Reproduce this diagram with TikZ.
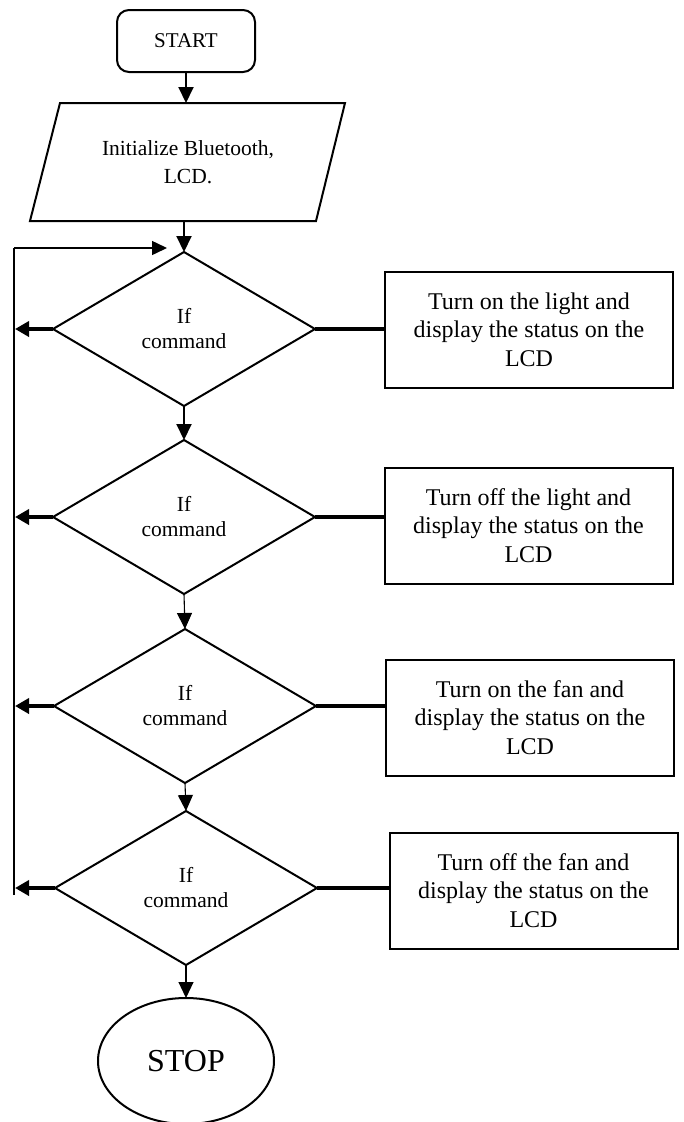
\documentclass[tikz,border=0pt]{standalone}
\usepackage{fontspec}
\setmainfont{Liberation Serif}
\usetikzlibrary{shapes.geometric,arrows.meta}

\begin{document}
\begin{tikzpicture}[x=1pt,y=1pt,
  every node/.style={inner sep=0pt, outer sep=0pt},
  txt/.style={font=\fontsize{21.5}{25}\selectfont, align=center},
  terminal/.style={draw, line width=2pt, rounded corners=12pt,
    minimum width=138pt, minimum height=62pt, font=\fontsize{21}{25}\selectfont},
  decision/.style={diamond, draw, line width=2pt, minimum width=262pt,
    minimum height=154pt, txt},
  action/.style={draw, line width=2pt, minimum width=288pt, minimum height=116pt,
    align=center, font=\fontsize{24}{28.5}\selectfont},
  stopnode/.style={ellipse, draw, line width=2pt, minimum width=176pt,
    minimum height=126pt, font=\fontsize{32}{36}\selectfont},
  head/.style={-{Triangle[length=16pt,width=15pt]}},
  flow/.style={line width=2pt, head},
  thinflow/.style={line width=1.1pt, head},
  backarrow/.style={line width=3.5pt, -{Triangle[length=14pt,width=15pt]}},
  link/.style={line width=3.5pt},
  loop/.style={line width=1.5pt}
]
\useasboundingbox (0,0) rectangle (683,-1122);

% start and initialisation
\node[terminal] (start) at (186,-41) {START};
\node[txt, font=\fontsize{21.5}{28}\selectfont, minimum width=256pt, minimum height=118pt] (init) at (188,-162)
  {Initialize Bluetooth,\\LCD.};
\draw[line width=2pt] ([xshift=-30pt]init.south west) -- (init.south east)
  -- ([xshift=29pt]init.north east) -- (init.north west) -- cycle;

% decisions
\node[decision] (d1) at (184,-329) {If\\command};
\node[decision] (d2) at (184,-517) {If\\command};
\node[decision] (d3) at (185,-706) {If\\command};
\node[decision] (d4) at (186,-888) {If\\command};

% actions
\node[action] (a1) at (529,-329.5) {Turn on the light and\\display the status on the\\LCD};
\node[action] (a2) at (528.5,-525.5) {Turn off the light and\\display the status on the\\LCD};
\node[action] (a3) at (530,-717.5) {Turn on the fan and\\display the status on the\\LCD};
\node[action] (a4) at (533.5,-890.5) {Turn off the fan and\\display the status on the\\LCD};

\node[stopnode] (stop) at (186,-1061) {STOP};

% main flow
\draw[flow] (start.south) -- (start.south |- init.north);
\draw[flow] (init.south -| d1.north) -- (d1.north);
\draw[flow] (d1.south) -- (d2.north);
\draw[thinflow] (d2.south) -- (d3.north);
\draw[thinflow] (d3.south) -- (d4.north);
\draw[thinflow] (d4.south) -- (stop.north);

% links to actions
\draw[link] (d1.east) -- (d1.east -| a1.west);
\draw[link] (d2.east) -- (d2.east -| a2.west);
\draw[link] (d3.east) -- (d3.east -| a3.west);
\draw[link] (d4.east) -- (d4.east -| a4.west);

% return loop
\coordinate (looptop) at (14,-248);
\coordinate (loopbot) at (14,-895);
\coordinate (looptip) at (167,-248);
\draw[loop] (loopbot) -- (looptop);
\draw[loop, -{Triangle[length=15pt,width=14pt]}] (looptop) -- (looptip);
\draw[backarrow] (d1.west) -- ([xshift=1pt]d1.west -| looptop);
\draw[backarrow] (d2.west) -- ([xshift=1pt]d2.west -| looptop);
\draw[backarrow] (d3.west) -- ([xshift=1pt]d3.west -| looptop);
\draw[backarrow] (d4.west) -- ([xshift=1pt]d4.west -| looptop);
\end{tikzpicture}
\end{document}
